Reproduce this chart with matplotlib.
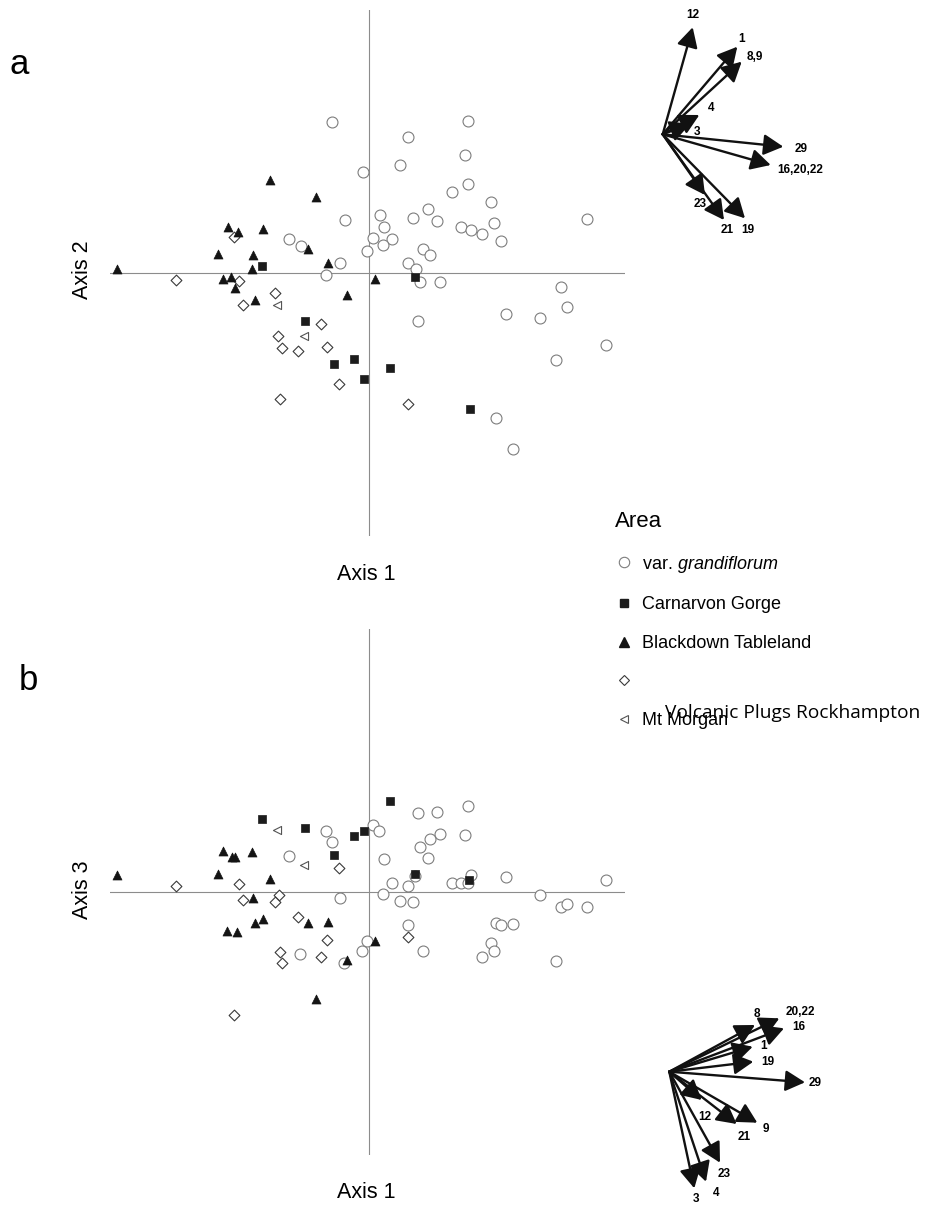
import matplotlib
matplotlib.use("Agg")
import matplotlib.pyplot as plt
from matplotlib.lines import Line2D

plt.rcParams['font.family'] = ['Liberation Sans', 'DejaVu Sans']
plt.rcParams['mathtext.fontset'] = 'custom'
plt.rcParams['mathtext.rm'] = 'Liberation Sans'
plt.rcParams['mathtext.it'] = 'Liberation Sans:italic'

# ---------------- ordination scores, panel a (Axis 1 vs Axis 2) ----------------
a_gran_x = [-0.37, -0.06, -0.24, -0.80, -0.68, -0.29, -0.43, 0.99, 0.39, 0.96, 0.31,
            0.99, 0.83, 1.22, 0.59, 0.11, 0.44, 0.68, 2.18, 1.25, 0.15, 0.92, 1.02,
            1.13, 0.04, 0.23, 0.14, 1.32, 0.54, 0.61, -0.02, 0.39, 0.47, 0.51, 0.71,
            1.92, 1.98, 1.37, 1.71, 0.49, 2.37, 1.87, 1.27, 1.44]
a_gran_y = [1.51, 1.01, 0.53, 0.34, 0.27, 0.10, -0.02, 1.52, 1.36, 1.18, 1.08,
            0.89, 0.81, 0.71, 0.64, 0.58, 0.55, 0.52, 0.54, 0.50, 0.46, 0.46, 0.43,
            0.39, 0.35, 0.34, 0.28, 0.32, 0.24, 0.18, 0.22, 0.10, 0.04, -0.09, -0.09,
            -0.14, -0.34, -0.41, -0.45, -0.48, -0.72, -0.87, -1.45, -1.76]
a_carn_x = [-1.07, -0.64, -0.15, -0.35, -0.05, 0.46, 0.21, 1.01]
a_carn_y = [0.07, -0.48, -0.86, -0.91, -1.06, -0.04, -0.95, -1.36]
a_black_x = [-2.52, -0.99, -0.53, -1.41, -1.31, -1.06, -1.51, -1.16, -0.61, -0.41,
             -1.17, -1.46, -1.38, -1.34, -1.14, -0.22, 0.06]
a_black_y = [0.04, 0.93, 0.76, 0.46, 0.41, 0.44, 0.19, 0.18, 0.24, 0.10,
             0.04, -0.06, -0.04, -0.15, -0.27, -0.22, -0.06]
a_volc_x = [-1.93, -1.35, -1.30, -0.94, -1.26, -0.48, -0.91, -0.87, -0.71, -0.42,
            -0.30, -0.89, 0.39]
a_volc_y = [-0.07, 0.36, -0.08, -0.20, -0.32, -0.51, -0.63, -0.75, -0.78, -0.74,
            -1.11, -1.26, -1.31]
a_morg_x = [-0.92, -0.65]
a_morg_y = [-0.32, -0.63]

# ---------------- ordination scores, panel b (Axis 1 vs Axis 3) ----------------
b_gran_x = [-0.43, -0.37, -0.80, -0.29, -0.69, -0.25, -0.07, -0.02, 0.99, 0.49, 0.68,
            0.04, 0.10, 0.71, 0.96, 0.61, 0.51, 0.59, 0.15, 0.46, 1.02, 1.37, 2.37,
            0.23, 0.39, 0.83, 0.92, 0.99, 0.14, 1.71, 0.31, 0.44, 1.92, 1.98, 2.18,
            0.39, 1.27, 1.32, 1.44, 1.22, 1.25, 0.54, 1.13, 1.87]
b_gran_y = [0.61, 0.50, 0.36, -0.06, -0.62, -0.71, -0.59, -0.49, 0.86, 0.79, 0.80,
            0.67, 0.61, 0.58, 0.57, 0.53, 0.45, 0.34, 0.33, 0.16, 0.17, 0.15, 0.12,
            0.09, 0.06, 0.09, 0.09, 0.09, -0.02, -0.03, -0.09, -0.10, -0.15, -0.12, -0.15,
            -0.33, -0.31, -0.33, -0.32, -0.51, -0.59, -0.59, -0.65, -0.69]
b_carn_x = [-1.07, -0.64, -0.15, -0.05, -0.35, 0.21, 0.46, 1.00]
b_carn_y = [0.73, 0.64, 0.56, 0.61, 0.37, 0.91, 0.18, 0.12]
b_black_x = [-2.52, -1.46, -1.37, -1.34, -1.17, -1.51, -0.99, -1.16, -1.06, -1.14,
             -1.42, -1.32, -0.61, -0.41, -0.22, -0.53, 0.06]
b_black_y = [0.17, 0.41, 0.35, 0.35, 0.40, 0.18, 0.13, -0.06, -0.27, -0.31,
             -0.39, -0.40, -0.31, -0.30, -0.68, -1.07, -0.49]
b_volc_x = [-1.93, -1.30, -0.30, -0.90, -1.26, -0.94, -0.71, -0.42, -0.89, -0.87,
            -0.48, -1.35, 0.39]
b_volc_y = [0.06, 0.08, 0.24, -0.03, -0.08, -0.10, -0.25, -0.48, -0.60, -0.71,
            -0.65, -1.23, -0.45]
b_morg_x = [-0.92, -0.65]
b_morg_y = [0.62, 0.27]

# ---------------- character vectors ----------------
va_labels = ['12', '1', '8,9', '4', '3', '29', '16,20,22', '23', '21', '19']
va_dx = [0.30, 0.746, 0.79, 0.366, 0.273, 1.206, 1.08, 0.423, 0.613, 0.823]
va_dy = [1.07, 0.876, 0.726, 0.193, 0.103, -0.124, -0.307, -0.607, -0.857, -0.84]

vb_labels = ['8', '20,22', '16', '1', '19', '29', '12', '21', '9', '23', '4', '3']
vb_dx = [0.857, 1.10, 1.147, 0.834, 0.84, 1.357, 0.324, 0.674, 0.88, 0.507, 0.367, 0.25]
vb_dy = [0.467, 0.534, 0.434, 0.25, 0.10, -0.106, -0.283, -0.523, -0.51, -0.91, -1.10, -1.166]

legend_labels = [r'var. $\mathit{grandiflorum}$', 'Carnarvon Gorge',
                 'Blackdown Tableland', '', 'Mt Morgan']

# ---------------- layout ----------------
W, H = 928, 1207
fig = plt.figure(figsize=(W / 100, H / 100), dpi=100)


def rect(x0, y0, x1, y1):
    """Figure-fraction rectangle from pixel box (top-left origin)."""
    return [x0 / W, 1 - y1 / H, (x1 - x0) / W, (y1 - y0) / H]


styles = {
    'gran': dict(marker='o', s=62, facecolors='white', edgecolors='#7d7d7d', linewidths=0.8),
    'carn': dict(marker='s', s=26, facecolors='#1c1c1c', edgecolors='#1c1c1c', linewidths=0.5),
    'black': dict(marker='^', s=42, facecolors='#141414', edgecolors='#141414', linewidths=0.5),
    'volc': dict(marker='D', s=30, facecolors='white', edgecolors='#3a3a3a', linewidths=0.8),
    'morg': dict(marker='<', s=34, facecolors='white', edgecolors='#555555', linewidths=0.8),
}


def scatter_panel(box, ylim, series):
    ax = fig.add_axes(rect(*box))
    ax.set_xlim(-2.59, 2.56)
    ax.set_ylim(*ylim)
    ax.axhline(0, color='#8c8c8c', lw=0.8, zorder=1)
    ax.axvline(0, color='#8c8c8c', lw=0.8, zorder=1)
    for key, (xs, ys) in series.items():
        ax.scatter(xs, ys, zorder=3, clip_on=False, **styles[key])
    ax.axis('off')
    return ax


ax_a = scatter_panel((110, 10, 625, 536), (-2.63, 2.63), {
    'gran': (a_gran_x, a_gran_y), 'volc': (a_volc_x, a_volc_y),
    'morg': (a_morg_x, a_morg_y), 'carn': (a_carn_x, a_carn_y),
    'black': (a_black_x, a_black_y)})
ax_b = scatter_panel((110, 629.3, 625, 1155.3), (-2.63, 2.63), {
    'gran': (b_gran_x, b_gran_y), 'volc': (b_volc_x, b_volc_y),
    'morg': (b_morg_x, b_morg_y), 'carn': (b_carn_x, b_carn_y),
    'black': (b_black_x, b_black_y)})

# axis titles and panel letters
fig.text(366.7 / W, 1 - 575 / H, 'Axis 1', fontsize=15.5, ha='center', va='center')
fig.text(366.7 / W, 1 - 1192 / H, 'Axis 1', fontsize=15.5, ha='center', va='center')
fig.text(83 / W, 1 - 270 / H, 'Axis 2', fontsize=15.5, ha='center', va='center', rotation=90)
fig.text(83 / W, 1 - 890 / H, 'Axis 3', fontsize=15.5, ha='center', va='center', rotation=90)
fig.text(19 / W, 1 - 64 / H, 'a', fontsize=25, ha='center', va='center')
fig.text(28 / W, 1 - 680 / H, 'b', fontsize=25, ha='center', va='center')


def vector_panel(box, xlim, ylim, labels, dx, dy, offsets):
    ax = fig.add_axes(rect(*box))
    ax.set_xlim(*xlim)
    ax.set_ylim(*ylim)
    ax.axis('off')
    for lab, x, y, off in zip(labels, dx, dy, offsets):
        ax.annotate('', xy=(x, y), xytext=(0, 0), annotation_clip=False,
                    arrowprops=dict(arrowstyle='-|>,head_length=0.6,head_width=0.32',
                                    mutation_scale=20, lw=1.7, color='#111111',
                                    shrinkA=0, shrinkB=0))
        ax.annotate(lab, xy=(x, y), xytext=off, textcoords='offset pixels',
                    ha='center', va='center', fontsize=8.5, fontweight='bold',
                    annotation_clip=False)
    return ax


va_offsets = [(0, 12), (4, 8), (13, 5), (12, 7), (7, -8), (18, -2), (29, -5),
              (-5, -9), (3, -10), (3, -12)]
vb_offsets = [(2, 11), (21, 6), (15, 1), (11, 1), (15, 0), (10, -1), (3, -17),
              (7, -13), (9, -6), (4, -11), (10, -11), (2, -11)]

vector_panel((640, 0, 840, 240), (-0.227, 1.773), (-1.057, 1.343),
             va_labels, va_dx, va_dy, va_offsets)
vector_panel((640, 1000, 840, 1207), (-0.293, 1.707), (-1.353, 0.717),
             vb_labels, vb_dx, vb_dy, vb_offsets)

# key
handles = [
    Line2D([], [], linestyle='none', marker='o', ms=7.5, mfc='white', mec='#7d7d7d', mew=0.8),
    Line2D([], [], linestyle='none', marker='s', ms=5.2, mfc='#1c1c1c', mec='#1c1c1c'),
    Line2D([], [], linestyle='none', marker='^', ms=6.5, mfc='#141414', mec='#141414'),
    Line2D([], [], linestyle='none', marker='D', ms=5.5, mfc='white', mec='#3a3a3a', mew=0.8),
    Line2D([], [], linestyle='none', marker='<', ms=6.0, mfc='white', mec='#555555', mew=0.8),
]
leg = fig.legend(handles, legend_labels, title='Area', loc='upper left',
                 bbox_to_anchor=(606 / W, 1 - 502 / H), frameon=False,
                 fontsize=13, title_fontsize=16, labelspacing=1.2,
                 handlelength=1.0, handletextpad=0.5, borderpad=0,
                 alignment='left')
fig.text(665 / W, 1 - 718 / H, 'Volcanic Plugs Rockhampton', fontsize=13.8,
         family=['Open Sans', 'DejaVu Sans'], va='baseline', ha='left')

fig.savefig('out.png', dpi=100)
